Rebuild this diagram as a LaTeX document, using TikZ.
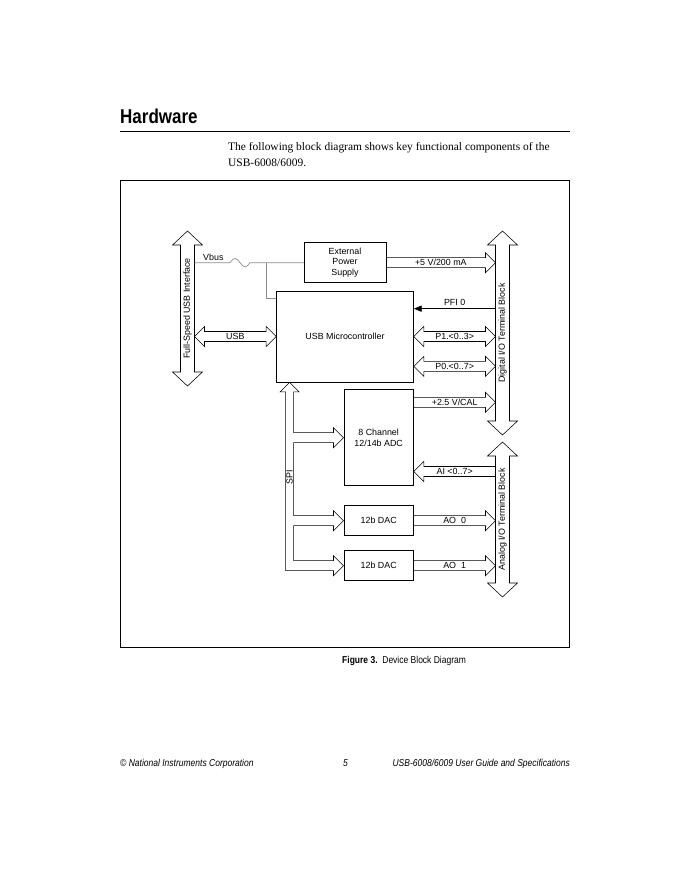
\documentclass[tikz,border=0pt]{standalone}
\usepackage{fontspec}
\setmainfont{Liberation Serif}
\setsansfont{Liberation Sans}
\newfontfamily\condfont[FakeStretch=0.85]{Liberation Sans}
\usetikzlibrary{arrows.meta, positioning, calc}

\begin{document}
\begin{tikzpicture}[
  x=0.9pt, y=-0.9pt,
  >={Triangle[length=7pt, width=5.5pt]},
  box/.style={draw, line width=0.6pt, align=center, inner sep=0pt,
    font=\sffamily\fontsize{8}{9.6}\selectfont},
  lbl/.style={font=\sffamily\fontsize{8}{9.6}\selectfont, inner sep=0pt},
  barlbl/.style={lbl, rotate=90},
  wire/.style={draw=black!45, line width=0.6pt},
  hbus/.style={line width=0.5pt, to path={
    ($(\tikztostart)!.5!(\tikztotarget)$) -- ($(\tikztostart)!.5!(\tikztotarget)$) \tikztonodes
    ($(\tikztostart)+(0,-5)$) -- ($(\tikztotarget)!9pt!(\tikztostart)+(0,-5)$)
    -- ($(\tikztotarget)!9pt!(\tikztostart)+(0,-10)$) -- (\tikztotarget)
    -- ($(\tikztotarget)!9pt!(\tikztostart)+(0,10)$)
    -- ($(\tikztotarget)!9pt!(\tikztostart)+(0,5)$) -- ($(\tikztostart)+(0,5)$)}},
  dbus/.style={line width=0.5pt, to path={
    ($(\tikztostart)!.5!(\tikztotarget)$) -- ($(\tikztostart)!.5!(\tikztotarget)$) \tikztonodes
    (\tikztostart) -- ($(\tikztostart)!9pt!(\tikztotarget)+(0,-10)$)
    -- ($(\tikztostart)!9pt!(\tikztotarget)+(0,-5)$)
    -- ($(\tikztotarget)!9pt!(\tikztostart)+(0,-5)$)
    -- ($(\tikztotarget)!9pt!(\tikztostart)+(0,-10)$) -- (\tikztotarget)
    -- ($(\tikztotarget)!9pt!(\tikztostart)+(0,10)$)
    -- ($(\tikztotarget)!9pt!(\tikztostart)+(0,5)$)
    -- ($(\tikztostart)!9pt!(\tikztotarget)+(0,5)$)
    -- ($(\tikztostart)!9pt!(\tikztotarget)+(0,10)$) -- cycle}},
  vbar/.style={line width=0.5pt, to path={
    ($(\tikztostart)!.5!(\tikztotarget)$) -- ($(\tikztostart)!.5!(\tikztotarget)$) \tikztonodes
    (\tikztostart) -- ($(\tikztostart)!12.6pt!(\tikztotarget)+(15,0)$)
    -- ($(\tikztostart)!12.6pt!(\tikztotarget)+(7,0)$)
    -- ($(\tikztotarget)!12.6pt!(\tikztostart)+(7,0)$)
    -- ($(\tikztotarget)!12.6pt!(\tikztostart)+(15,0)$) -- (\tikztotarget)
    -- ($(\tikztotarget)!12.6pt!(\tikztostart)+(-15,0)$)
    -- ($(\tikztotarget)!12.6pt!(\tikztostart)+(-7,0)$)
    -- ($(\tikztostart)!12.6pt!(\tikztotarget)+(-7,0)$)
    -- ($(\tikztostart)!12.6pt!(\tikztotarget)+(-15,0)$) -- cycle}}
]
\fill[white] (0,0) rectangle (680,880);
\useasboundingbox (0,0) rectangle (680,880);

% page text
\node[anchor=base west, inner sep=0pt, font=\condfont\bfseries\fontsize{18}{20}\selectfont] (title) at (120,123.5) {Hardware};
\draw[line width=0.8pt] (120,131) -- (570,131);
\node[anchor=base west, inner sep=0pt, align=left, font=\fontsize{10.3}{14.4}\selectfont] (intro) at (228,166.5)
  {The following block diagram shows key functional components of the\\USB-6008/6009.};
\draw[line width=0.8pt] (120.5,180.5) rectangle (569.5,647.5);
\node[anchor=base west, inner sep=0pt, font=\condfont\fontsize{9}{11}\selectfont] (caption) at (342,663.5)
  {\bfseries Figure 3.\mdseries\ \ Device Block Diagram};
\node[anchor=base west, inner sep=0pt, font=\condfont\itshape\fontsize{9}{11}\selectfont] (footl) at (120,766.5) {© National Instruments Corporation};
\node[anchor=base, inner sep=0pt, font=\condfont\itshape\fontsize{9}{11}\selectfont] (footc) at (345.5,766.5) {5};
\node[anchor=base east, inner sep=0pt, font=\condfont\itshape\fontsize{9}{11}\selectfont] (footr) at (570,766.5) {USB-6008/6009 User Guide and Specifications};

% blocks
\node[box, minimum width=123.3pt, minimum height=81.9pt] (mcu) at (345,336.5) {USB Microcontroller};
\node[box, above=6.9pt of mcu, minimum width=73.5pt, minimum height=36pt] (psu) {External\\Power\\Supply};
\node[box, below left=6.3pt and 0pt of mcu.south east, minimum width=62.7pt, minimum height=86.4pt] (adc) {8 Channel\\12/14b ADC};
\node[box, below=17.4pt of adc, minimum width=62.7pt, minimum height=27pt] (daca) {12b DAC};
\node[box, below=12.9pt of daca, minimum width=62.7pt, minimum height=27pt] (dacb) {12b DAC};

% terminal bars
\coordinate (usbT) at (187.5,231);
\coordinate (usbB) at (187.5,386);
\coordinate (dioT) at (502.5,231);
\coordinate (dioB) at (502.5,435);
\coordinate (aioT) at (502.5,442);
\coordinate (aioB) at (502.5,597);
\coordinate (usbR) at (194.5,0);
\coordinate (ioL) at (495.5,0);
\draw[vbar] (usbT) to node[barlbl] (usbif) {Full-Speed USB Interface} (usbB);
\draw[vbar] (dioT) to node[barlbl] (dio) {Digital I/O Terminal Block} (dioB);
\draw[vbar] (aioT) to node[barlbl] (aio) {Analog I/O Terminal Block} (aioB);

% vbus
\draw[wire] (usbR |- psu.west) -- ++(35.5,0) sin ++(5,-4.3) cos ++(5,4.3) sin ++(5,4.3) cos ++(5,-4.3) -- (psu.west);
\draw[wire] (mcu.north west |- psu.west) ++(-10,0) |- ($(mcu.north west)+(0,7.5)$);
\node[lbl, anchor=west] (vbus) at (203,257) {Vbus};

% buses
\coordinate (pfi) at ($(mcu.north east)+(0,18)$);
\coordinate (p0row) at ($(mcu.south east)+(0,-16)$);
\coordinate (calrow) at ($(adc.north east)+(0,13)$);
\coordinate (airow) at ($(adc.south east)+(0,-14.5)$);
\draw[dbus] (usbR |- mcu.west) to node[lbl] (usb) {USB} (mcu.west);
\draw[hbus] (psu.east) to node[lbl] (p5v) {+5 V/200 mA} (psu.east -| ioL);
\draw[->, line width=0.6pt] (ioL |- pfi) -- node[lbl, above=2.5pt] (pfilbl) {PFI 0} (pfi);
\draw[dbus] (mcu.east) to node[lbl] (p1) {P1.<0..3>} (mcu.east -| ioL);
\draw[dbus] (p0row) to node[lbl] (p0) {P0.<0..7>} (p0row -| ioL);
\draw[hbus] (calrow) to node[lbl] (cal) {+2.5 V/CAL} (calrow -| ioL);
\draw[hbus] (airow -| ioL) to node[lbl] (ai) {AI <0..7>} (airow);
\draw[hbus] (daca.east) to node[lbl] (ao0) {AO\ \ 0} (daca.east -| ioL);
\draw[hbus] (dacb.east) to node[lbl] (ao1) {AO\ \ 1} (dacb.east -| ioL);

% spi
\coordinate (spi) at ($(mcu.south west)+(13.5,0)$);
\draw[line width=0.5pt] (spi) -- ++(9.5,9.5) -- ++(-5.5,0)
  -- ($(spi |- adc.west)+(4,-5)$) -- ($(adc.west)+(-10,-5)$) -- ($(adc.west)+(-10,-10)$) -- (adc.west)
  -- ($(adc.west)+(-10,10)$) -- ($(adc.west)+(-10,5)$) -- ($(spi |- adc.west)+(4,5)$)
  -- ($(spi |- daca.west)+(4,-5)$) -- ($(daca.west)+(-10,-5)$) -- ($(daca.west)+(-10,-10)$) -- (daca.west)
  -- ($(daca.west)+(-10,10)$) -- ($(daca.west)+(-10,5)$) -- ($(spi |- daca.west)+(4,5)$)
  -- ($(spi |- dacb.west)+(4,-5)$) -- ($(dacb.west)+(-10,-5)$) -- ($(dacb.west)+(-10,-10)$) -- (dacb.west)
  -- ($(dacb.west)+(-10,10)$) -- ($(dacb.west)+(-10,5)$) -- ($(spi |- dacb.west)+(-4,5)$)
  -- ($(spi)+(-4,9.5)$) -- ($(spi)+(-9.5,9.5)$) -- cycle;
\node[barlbl] (spilbl) at ($(spi)+(0,95)$) {SPI};
\end{tikzpicture}
\end{document}
